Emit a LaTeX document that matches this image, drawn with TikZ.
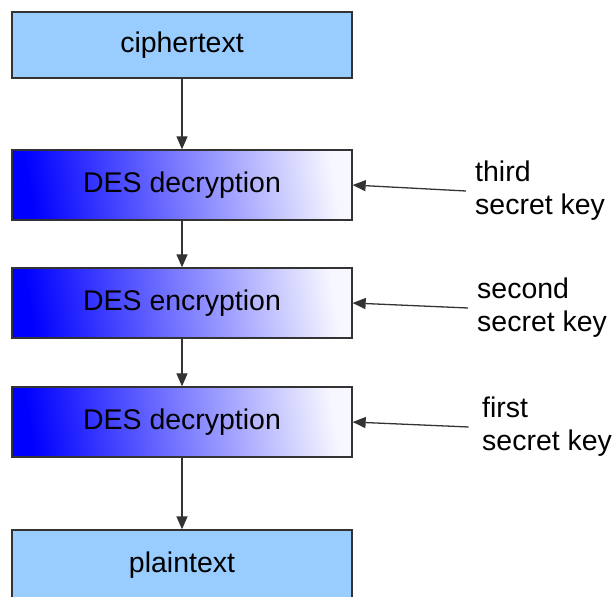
\documentclass[tikz,border=0pt]{standalone}
\usepackage{fontspec}
\setmainfont{Liberation Sans}
\usetikzlibrary{arrows.meta}
\definecolor{lightblue}{HTML}{99CCFF}
\definecolor{edgegray}{HTML}{333333}
\tikzset{
	box/.style={draw=edgegray,line width=1.1pt,minimum width=10.2cm,minimum height=2.1cm,inner sep=0pt,font=\fontsize{24.3}{29}\selectfont},
	plainbox/.style={box,fill=lightblue},
	desbox/.style={box,left color=blue,right color=blue!3,shading angle=99},
	keylabel/.style={anchor=west,align=left,inner sep=0pt,font=\fontsize{24.3}{28}\selectfont},
	arr/.style={draw=edgegray,line width=1.1pt,-{Triangle[length=0.39cm,width=0.33cm]}}
}
\begin{document}
\begin{tikzpicture}[x=0.03cm,y=-0.03cm]
	\useasboundingbox (0,0) rectangle (614,597);
	\node[plainbox,minimum height=1.98cm] (cipher) at (182,45) {ciphertext};
	\node[desbox] (dec3) at (182,185) {DES decryption};
	\node[desbox] (enc2) at (182,303) {DES encryption};
	\node[desbox] (dec1) at (182,422) {DES decryption};
	\node[plainbox] (plain) at (182,565) {plaintext};
	\node[keylabel] (key3) at (475,191) {third\\secret key};
	\node[keylabel] (key2) at (477,308) {second\\secret key};
	\node[keylabel] (key1) at (482,427) {first\\secret key};
	\draw[arr] (cipher) -- (dec3);
	\draw[arr] (dec3) -- (enc2);
	\draw[arr] (enc2) -- (dec1);
	\draw[arr] (dec1) -- (plain);
	\draw[arr] ([xshift=-0.27cm]key3.west) -- (dec3.east);
	\draw[arr] ([xshift=-0.27cm]key2.west) -- (enc2.east);
	\draw[arr] ([xshift=-0.4cm]key1.west) -- (dec1.east);
\end{tikzpicture}
\end{document}
